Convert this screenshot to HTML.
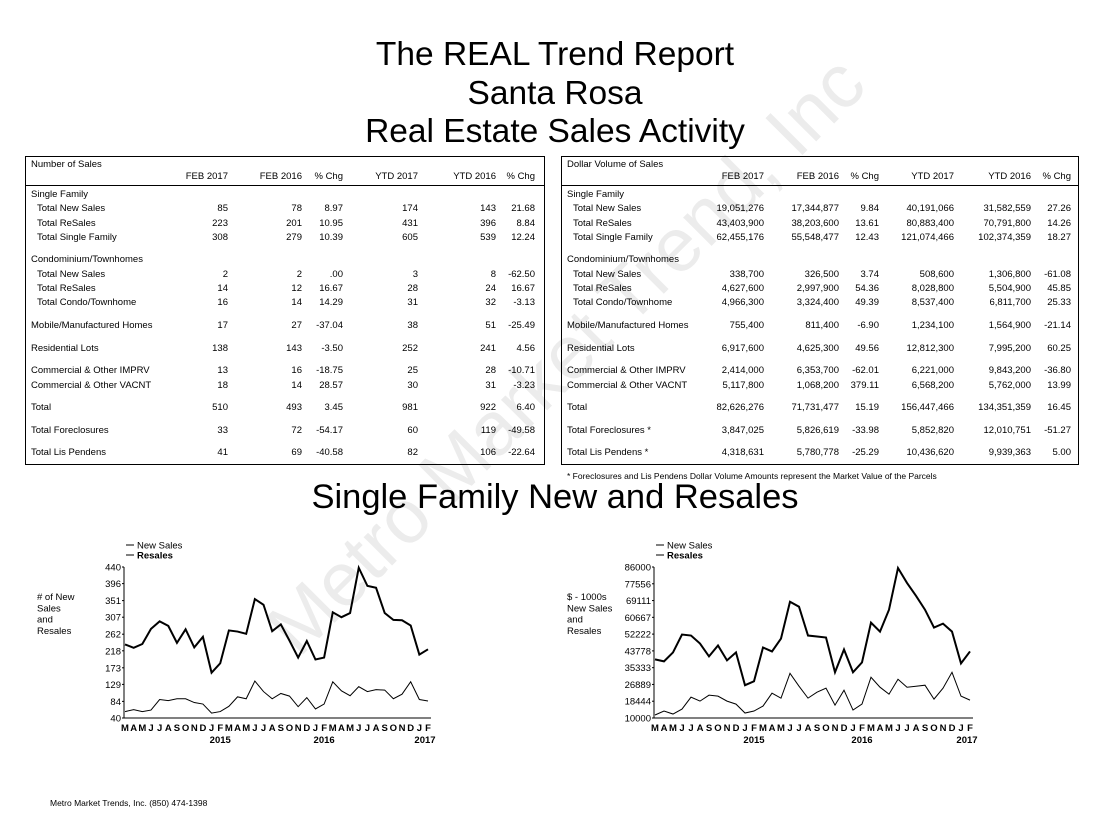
<!DOCTYPE html>
<html><head><meta charset="utf-8">
<style>
body{margin:0;width:1096px;height:816px;background:#fff;position:relative;overflow:hidden;font-family:"Liberation Sans",Arial,sans-serif;color:#000}
.t{position:absolute;white-space:nowrap}
.title{position:absolute;left:0;width:1110px;text-align:center;font-size:33.5px;line-height:36px}
.box{position:absolute;border:1px solid #000;box-sizing:border-box}
.c{position:absolute;font-size:9.5px;white-space:nowrap;line-height:11px}
.wm{position:absolute;left:250px;top:610px;font-size:76px;color:#ececec;transform:rotate(-45deg);transform-origin:0 0;white-space:nowrap;z-index:0}
</style></head><body>
<div class="wm">Metro Market Trend, Inc</div>
<div class="title" style="top:37px">The REAL Trend Report</div>
<div class="title" style="top:76px">Santa Rosa</div>
<div class="title" style="top:114px">Real Estate Sales Activity</div>
<div class="box" style="left:25px;top:156px;width:520px;height:309px"></div>
<div class="box" style="left:561px;top:156px;width:518px;height:309px"></div>
<div id="tables"></div>
<div class="t" style="left:567px;top:471px;font-size:8.5px">* Foreclosures and Lis Pendens Dollar Volume Amounts represent the Market Value of the Parcels</div>
<div class="title" style="top:479px;font-size:34.5px">Single Family New and Resales</div>
<svg id="chart" width="1096" height="816" style="position:absolute;left:0;top:0"></svg>
<div class="t" style="left:50px;top:798px;font-size:8.5px">Metro Market Trends, Inc. (850) 474-1398</div>
<script>
const labels=["Single Family","Total New Sales","Total ReSales","Total Single Family","Condominium/Townhomes","Total New Sales","Total ReSales","Total Condo/Townhome","Mobile/Manufactured Homes","Residential Lots","Commercial & Other IMPRV","Commercial & Other VACNT","Total","Total Foreclosures","Total Lis Pendens"];
const rowY=[195,209,224,238,260,275,289,303,326,349,371,386,408,431,453];
const numRows=[null,["85","78","8.97","174","143","21.68"],["223","201","10.95","431","396","8.84"],["308","279","10.39","605","539","12.24"],null,["2","2",".00","3","8","-62.50"],["14","12","16.67","28","24","16.67"],["16","14","14.29","31","32","-3.13"],["17","27","-37.04","38","51","-25.49"],["138","143","-3.50","252","241","4.56"],["13","16","-18.75","25","28","-10.71"],["18","14","28.57","30","31","-3.23"],["510","493","3.45","981","922","6.40"],["33","72","-54.17","60","119","-49.58"],["41","69","-40.58","82","106","-22.64"]];
const dolRows=[null,["19,051,276","17,344,877","9.84","40,191,066","31,582,559","27.26"],["43,403,900","38,203,600","13.61","80,883,400","70,791,800","14.26"],["62,455,176","55,548,477","12.43","121,074,466","102,374,359","18.27"],null,["338,700","326,500","3.74","508,600","1,306,800","-61.08"],["4,627,600","2,997,900","54.36","8,028,800","5,504,900","45.85"],["4,966,300","3,324,400","49.39","8,537,400","6,811,700","25.33"],["755,400","811,400","-6.90","1,234,100","1,564,900","-21.14"],["6,917,600","4,625,300","49.56","12,812,300","7,995,200","60.25"],["2,414,000","6,353,700","-62.01","6,221,000","9,843,200","-36.80"],["5,117,800","1,068,200","379.11","6,568,200","5,762,000","13.99"],["82,626,276","71,731,477","15.19","156,447,466","134,351,359","16.45"],["3,847,025","5,826,619","-33.98","5,852,820","12,010,751","-51.27"],["4,318,631","5,780,778","-25.29","10,436,620","9,939,363","5.00"]];
const colHeads=["FEB 2017","FEB 2016","% Chg","YTD 2017","YTD 2016","% Chg"];
const T=document.getElementById('tables');
function cell(txt,x,y,right){const d=document.createElement('div');d.className='c';d.textContent=txt;d.style.top=(y-6)+'px';
if(right){d.style.right=(1096-x)+'px';}else{d.style.left=x+'px';}


T.appendChild(d);}
function table(x0,title,cols,rows,foot){
cell(title,x0+6,165,false);
colHeads.forEach((h,i)=>cell(h,cols[i],177,true));
const ln=document.createElement('div');ln.style.cssText='position:absolute;left:'+x0+'px;top:185px;width:'+(x0<100?520:518)+'px;height:1px;background:#000';


T.appendChild(ln);
labels.forEach((l,i)=>{const indent=(rows[i]&&[1,2,3,5,6,7].includes(i))?12:6;
let lab=l;if(foot&&(i===13||i===14))lab=l+' *';
cell(lab,x0+indent,rowY[i],false);
if(rows[i])rows[i].forEach((v,j)=>cell(v,cols[j],rowY[i],true));});}
table(25,"Number of Sales",[228,302,343,418,496,535],numRows,false);
table(561,"Dollar Volume of Sales",[764,839,879,954,1031,1071],dolRows,true);

// charts
const months=["M","A","M","J","J","A","S","O","N","D","J","F","M","A","M","J","J","A","S","O","N","D","J","F","M","A","M","J","J","A","S","O","N","D","J","F"];
const years=[["2015",11],["2016",23],["2017",35]];
const cntNew=[57,62,57,61,89,86,91,91,81,77,53,57,71,96,91,138,110,91,105,98,70,94,64,77,136,112,99,123,110,115,114,91,103,136,89,85];
const cntRes=[235,226,236,276,296,284,239,275,227,255,160,185,272,269,263,355,340,270,288,245,200,244,195,200,320,307,318,438,390,385,318,300,299,285,208,222];
const cntTicks=["40","84","129","173","218","262","307","351","396","440"];
const dolNew=[11500,13500,12000,14500,20500,18500,21500,21000,18500,17000,12500,13500,16000,22500,20000,32500,26000,20000,23000,25000,16500,24000,14000,17000,30500,25500,22000,29500,25500,26000,26500,19500,25000,33000,21000,19000];
const dolRes=[39500,38500,43000,52000,51500,47500,41000,46500,39000,43000,26500,28500,45500,43500,50000,68500,66000,51500,51000,50500,33000,44500,33000,38000,58000,53500,64500,85500,78000,71500,64500,55500,57500,53500,37500,43500];
const dolTicks=["10000","18444","26889","35333","43778","52222","60667","69111","77556","86000"];
const S=document.getElementById('chart');const NS='http://www.w3.org/2000/svg';
function el(tag,attrs,txt){const e=document.createElementNS(NS,tag);for(const k in attrs)e.setAttribute(k,attrs[k]);if(txt!==undefined)e.textContent=txt;S.appendChild(e);return e;}
function chart(ax,x0,x1,ymin,ymax,ticks,nw,rs,ytitle,key){
const yT=567,yB=718;
const X=i=>x0+(x1-x0)*i/(months.length-1);
const Y=v=>yB-(v-ymin)/(ymax-ymin)*(yB-yT);
let a=el('line',{x1:ax,y1:yT,x2:ax,y2:yB,stroke:'#000','stroke-width':1});


a=el('line',{x1:ax,y1:yB,x2:x1+3,y2:yB,stroke:'#000','stroke-width':1});


ticks.forEach(t=>{const y=Y(+t);const tx=el('text',{x:ax-3,y:y+3.5,'text-anchor':'end','font-size':9.5},t);


const tk=el('line',{x1:ax-2,y1:y,x2:ax,y2:y,stroke:'#000'});

});
months.forEach((m,i)=>{const tx=el('text',{x:X(i),y:731,'text-anchor':'middle','font-size':9.5,'font-weight':'bold'},m);

});
years.forEach(([y,i])=>{const tx=el('text',{x:X(i)-(i===35?3:0),y:743,'text-anchor':'middle','font-size':9.5,'font-weight':'bold'},y);

});
const p1=el('polyline',{points:rs.map((v,i)=>X(i)+','+Y(v)).join(' '),fill:'none',stroke:'#000','stroke-width':2});


const p2=el('polyline',{points:nw.map((v,i)=>X(i)+','+Y(v)).join(' '),fill:'none',stroke:'#000','stroke-width':1});


const lx=ax+2;
[['New Sales',545,'normal'],['Resales',555,'bold']].forEach(([t,y,w])=>{
const l=el('line',{x1:lx,y1:y,x2:lx+8,y2:y,stroke:'#000'});


const tx=el('text',{x:lx+11,y:y+3.5,'font-size':9.5,'font-weight':w},t);

});
ytitle.forEach((t,i)=>{const tx=el('text',{x:ax-87,y:600+i*11.3,'font-size':9.5},t);

});
}
chart(124,125,428,40,440,cntTicks,cntNew,cntRes,["# of   New","Sales","and","Resales"],'count-chart');
chart(654,655,970,10000,86000,dolTicks,dolNew,dolRes,["$ - 1000s","New Sales","and","Resales"],'dollar-chart');
</script>
</body></html>
